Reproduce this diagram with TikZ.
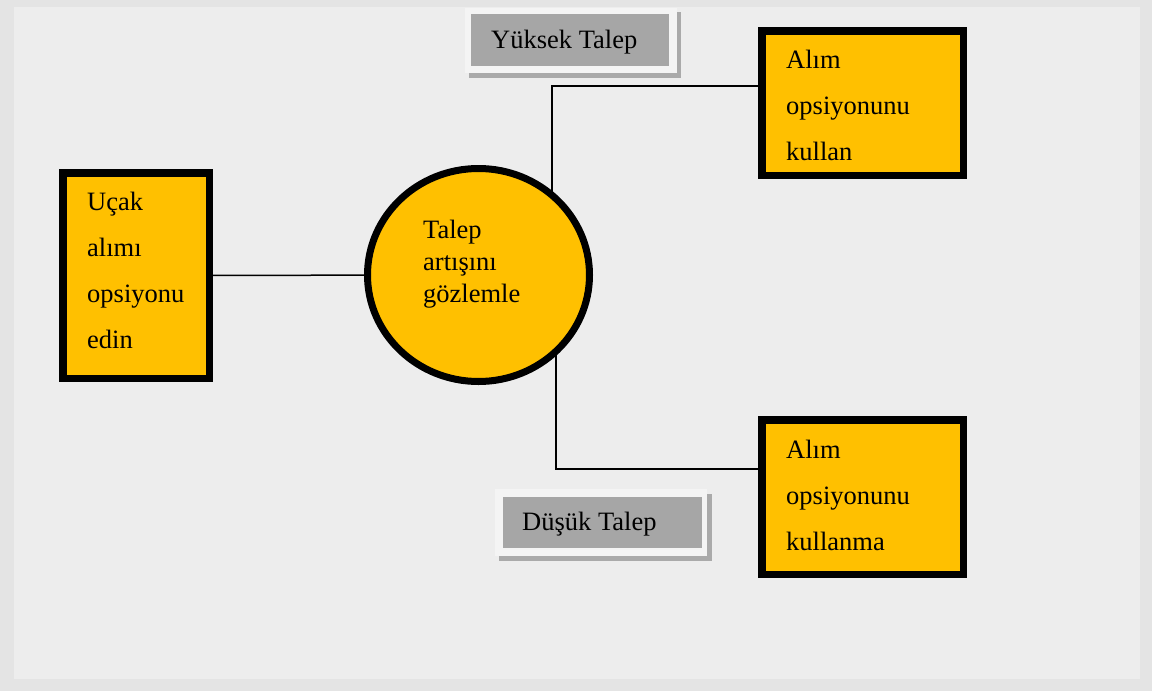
\documentclass[tikz,border=0pt]{standalone}
\usepackage{fontspec}
\setmainfont{Liberation Serif}
\usetikzlibrary{shapes.geometric}
\definecolor{outerbg}{HTML}{E4E4E4}
\definecolor{panelbg}{HTML}{EDEDED}
\definecolor{boxyellow}{HTML}{FFC000}
\definecolor{labelgray}{HTML}{A6A6A6}
\definecolor{framewhite}{HTML}{F4F4F4}
\definecolor{shadowgray}{HTML}{AAAAAA}
\pgfdeclarelayer{bg}
\pgfdeclarelayer{background}
\pgfsetlayers{bg,background,main}
\tikzset{
  optbox/.style={draw=black, fill=boxyellow, line width=7.5pt, rectangle, inner sep=0pt},
  decision/.style={draw=black, fill=boxyellow, line width=7pt, ellipse, inner sep=0pt},
  boxtext/.style={anchor=base west, inner sep=0pt, align=left, font=\fontsize{26.5}{46}\selectfont},
  circtext/.style={anchor=base west, inner sep=0pt, align=left, font=\fontsize{26.5}{32}\selectfont},
  labeltext/.style={anchor=base west, inner sep=0pt, font=\fontsize{26.5}{30}\selectfont},
  conn/.style={draw=black, line width=1.5pt},
}
\begin{document}
\begin{tikzpicture}[x=1pt,y=-1pt]
\useasboundingbox (0,0) rectangle (1152,691);
\begin{pgfonlayer}{bg}
  \fill[outerbg] (0,0) rectangle (1152,691);
  \fill[panelbg] (14,7) rectangle (1140,679);
\end{pgfonlayer}

% boxes
\node[optbox, minimum width=146.5pt, minimum height=205.5pt] (acquire) at (136,275.5) {};
\node[optbox, minimum width=201.5pt, minimum height=144.5pt] (exercise) at (862.5,103) {};
\node[optbox, minimum width=201.5pt, minimum height=154.5pt] (notexercise) at (862.5,497) {};
\node[decision, minimum width=222pt, minimum height=213pt] (monitor) at (478.5,275) {};

% texts (base anchor = baseline of last line)
\node[boxtext] (acquiretext) at (87,348) {Uçak\\alımı\\opsiyonu\\edin};
\node[boxtext] (exercisetext) at (786,160) {Alım\\opsiyonunu\\kullan};
\node[boxtext] (notexercisetext) at (786,550) {Alım\\opsiyonunu\\kullanma};
\node[circtext] (monitortext) at (423,302) {Talep\\artışını\\gözlemle};

% labels
\fill[shadowgray] (469,12) rectangle (681,78);
\fill[framewhite] (465,8) rectangle (677,73);
\node[fill=labelgray, minimum width=198pt, minimum height=52pt, inner sep=0pt] (high) at (570,40) {};
\node[labeltext] (hightext) at (491,48) {Yüksek Talep};

\fill[shadowgray] (499,494) rectangle (712,561);
\fill[framewhite] (495,489) rectangle (707,556);
\node[fill=labelgray, minimum width=199pt, minimum height=51pt, inner sep=0pt] (low) at (602.5,522.5) {};
\node[labeltext] (lowtext) at (522,530) {Düşük Talep};

% connectors
\coordinate (topturn) at (552,86);
\coordinate (botturn) at (556,469);
\begin{pgfonlayer}{background}
  \draw[conn] (acquire) -- (monitor);
  \draw[conn] (topturn |- monitor.center) -- (topturn) -- (topturn -| exercise.west);
  \draw[conn] (botturn |- monitor.center) -- (botturn) -- (botturn -| notexercise.west);
\end{pgfonlayer}
\end{tikzpicture}
\end{document}
